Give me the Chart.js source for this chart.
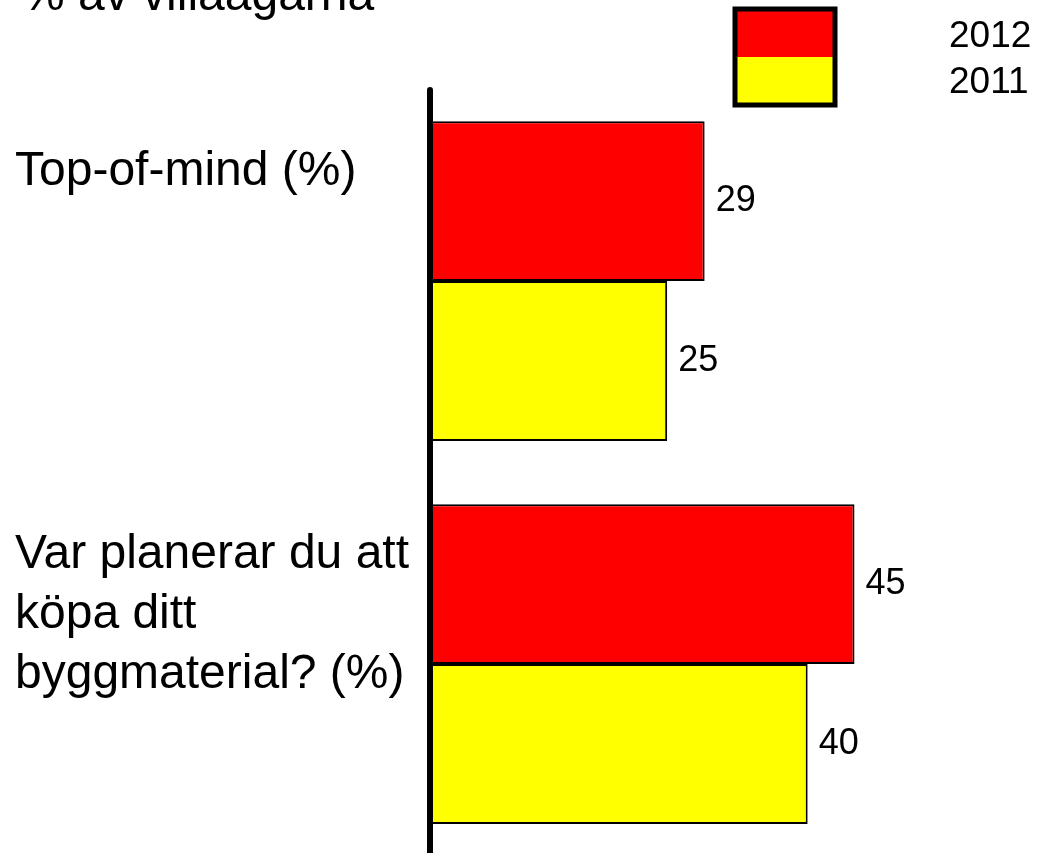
<!DOCTYPE html>
<html>
<head>
<meta charset="utf-8">
<script src="https://cdn.jsdelivr.net/npm/chart.js"></script>
<style>
  html, body { margin: 0; padding: 0; overflow: hidden; background: #fff; }
  #wrap { position: absolute; left: 0; top: -40px; width: 1053px; height: 910px; }
</style>
</head>
<body>
<div id="wrap"><canvas id="myChart" width="1053" height="910"></canvas></div>
<script>
const ctx = document.getElementById('myChart');

// data
const categories = [
  ['Top-of-mind (%)'],
  ['Var planerar du att', 'köpa ditt', 'byggmaterial? (%)']
];
const seriesNames = ['2012', '2011'];
const values2012 = [29, 45];
const values2011 = [25, 40];
const titleText = '% av villaägarna';

const FONT = "'Liberation Sans', Arial, sans-serif";

// draws axis line, category text, value labels and the split legend box
const extras = {
  id: 'extras',
  afterDatasetsDraw(chart) {
    const c = chart.ctx;
    const area = chart.chartArea;
    const yScale = chart.scales.y;

    // axis line
    c.save();
    c.strokeStyle = '#000';
    c.lineWidth = 6;
    c.lineCap = 'round';
    c.beginPath();
    c.moveTo(area.left - 3, 130);
    c.lineTo(area.left - 3, chart.height + 10);
    c.stroke();

    // category labels
    c.fillStyle = '#000';
    c.font = '48px ' + FONT;
    c.textAlign = 'left';
    c.textBaseline = 'alphabetic';
    categories.forEach((lines, i) => {
      const yc = yScale.getPixelForValue(i);
      lines.forEach((txt, j) => {
        c.fillText(txt, 15, yc - 96 + j * 60);
      });
    });

    // value labels
    c.font = '36px ' + FONT;
    c.textBaseline = 'middle';
    chart.data.datasets.forEach((ds, di) => {
      chart.getDatasetMeta(di).data.forEach((bar, i) => {
        c.fillText(ds.data[i], bar.x + 11, bar.y);
      });
    });

    // legend: one box split into the two colours
    const lx = 735, ly = 49, lw = 100, lh = 96;
    c.fillStyle = chart.data.datasets[0].backgroundColor;
    c.fillRect(lx, ly, lw, lh / 2);
    c.fillStyle = chart.data.datasets[1].backgroundColor;
    c.fillRect(lx, ly + lh / 2, lw, lh / 2);
    c.lineWidth = 5;
    c.lineCap = 'butt';
    c.strokeStyle = '#000';
    c.strokeRect(lx, ly, lw, lh);
    c.fillStyle = '#000';
    c.font = '37px ' + FONT;
    c.textBaseline = 'alphabetic';
    c.fillText(seriesNames[0], 949, 87);
    c.fillText(seriesNames[1], 949, 133);
    c.restore();
  }
};

new Chart(ctx, {
  type: 'bar',
  data: {
    labels: categories,
    datasets: [{
      label: seriesNames[0],
      data: values2012,
      backgroundColor: 'rgb(255, 0, 0)',
      borderColor: 'rgb(0, 0, 0)',
      borderWidth: 2,
      barPercentage: 1.0,
      categoryPercentage: 0.835
    }, {
      label: seriesNames[1],
      data: values2011,
      backgroundColor: 'rgb(255, 255, 0)',
      borderColor: 'rgb(0, 0, 0)',
      borderWidth: 2,
      barPercentage: 1.0,
      categoryPercentage: 0.835
    }]
  },
  options: {
    indexAxis: 'y',
    responsive: false,
    animation: false,
    layout: {
      padding: { left: 22, right: 58, top: 0, bottom: 14.5 }
    },
    plugins: {
      legend: { display: false },
      tooltip: { enabled: false },
      title: {
        display: true,
        text: titleText,
        align: 'start',
        color: '#000',
        font: { family: FONT, size: 48, weight: 'normal' },
        padding: { top: 8, bottom: 64 }
      }
    },
    scales: {
      x: {
        display: false,
        min: 0,
        max: 60
      },
      y: {
        display: true,
        grid: { display: false },
        border: { display: false },
        ticks: { display: false },
        afterFit: (s) => { s.width = 411; }
      }
    }
  },
  plugins: [extras]
});
</script>
</body>
</html>
